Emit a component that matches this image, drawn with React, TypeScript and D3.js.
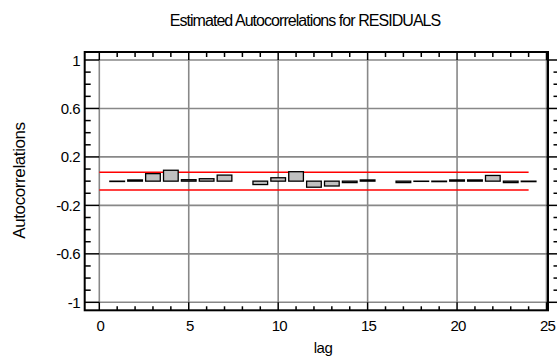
import React from "react";
import * as d3 from "d3";

const lags = [1, 2, 3, 4, 5, 6, 7, 8, 9, 10, 11, 12, 13, 14, 15, 16, 17, 18, 19, 20, 21, 22, 23, 24];
const acf: (number | null)[] = [
  -0.003, 0.01, 0.062, 0.09, 0.012, 0.02, 0.05, null, -0.028, 0.028, 0.078, -0.05,
  -0.04, -0.012, 0.01, null, -0.012, -0.002, -0.004, 0.01, 0.01, 0.047, -0.012, -0.004,
];
const upperLimit = [0.073];
const lowerLimit = [-0.073];
const xTicks = [0, 5, 10, 15, 20, 25];
const yTicks = [1, 0.6, 0.2, -0.2, -0.6, -1];
const yTickLabels = ["1", "0.6", "0.2", "-0.2", "-0.6", "-1"];
const title = "Estimated Autocorrelations for RESIDUALS";
const xLabel = "lag";
const yLabel = "Autocorrelations";

const W = 557;
const H = 363;
const FONT = "'Liberation Sans', Arial, sans-serif";

export default function App() {
  const x = d3.scaleLinear().domain([0, 25]).range([99.3, 546.5]);
  const y = d3.scaleLinear().domain([-1, 1]).range([302.3, 60]);
  const frame = { l: 84.7, r: 548, t: 52, b: 310.3 };
  const minorX = d3.range(0, 26);
  const minorY = d3.range(-10, 11).map((d) => d / 10);
  const bw = (x(1) - x(0)) * 0.82;
  const maxLag = d3.max(lags) as number;

  return (
    <svg
      width={W}
      height={H}
      style={{ position: "absolute", left: 0, top: 0, background: "#fff" }}
      fontFamily={FONT}
    >
      {/* gridlines */}
      {xTicks.map((t) => (
        <line key={"gx" + t} x1={x(t)} x2={x(t)} y1={y(1)} y2={y(-1)} stroke="#888" strokeWidth={1.6} />
      ))}
      {yTicks.map((t) => (
        <line key={"gy" + t} x1={x(0)} x2={x(25)} y1={y(t)} y2={y(t)} stroke="#888" strokeWidth={1.6} />
      ))}
      {/* confidence limits */}
      <line x1={x(0)} x2={x(maxLag)} y1={y(upperLimit[0])} y2={y(upperLimit[0])} stroke="#f00" strokeWidth={1.4} />
      <line x1={x(0)} x2={x(maxLag)} y1={y(lowerLimit[0])} y2={y(lowerLimit[0])} stroke="#f00" strokeWidth={1.4} />
      {/* bars */}
      {lags.map((l, i) => {
        const v = acf[i];
        if (v === null) return null;
        const y0 = y(Math.max(v, 0));
        const y1 = y(Math.min(v, 0));
        return (
          <rect
            key={"b" + l}
            x={x(l) - bw / 2}
            y={y0}
            width={bw}
            height={Math.max(y1 - y0, 0.01)}
            fill="#c0c0c0"
            stroke="#000"
            strokeWidth={1.3}
          />
        );
      })}
      {/* frame */}
      <rect x={frame.l} y={frame.t} width={frame.r - frame.l} height={frame.b - frame.t} fill="none" stroke="#000" strokeWidth={2} />
      {/* top & bottom ticks */}
      {minorX.map((t) => {
        const major = t % 5 === 0;
        return (
          <g key={"tx" + t}>
            <line x1={x(t)} x2={x(t)} y1={frame.t} y2={major ? y(1) : frame.t + 5} stroke="#000" strokeWidth={1.5} />
            <line x1={x(t)} x2={x(t)} y1={frame.b} y2={major ? y(-1) : frame.b - 4} stroke="#000" strokeWidth={1.5} />
          </g>
        );
      })}
      {/* left & right ticks */}
      {minorY.map((t, i) => {
        const major = Math.round(t * 10 + 10) % 4 === 0;
        return (
          <g key={"ty" + i}>
            <line x1={frame.l} x2={major ? x(0) : frame.l + 6} y1={y(t)} y2={y(t)} stroke="#000" strokeWidth={1.5} />
            {major ? (
              <line x1={x(25)} x2={W} y1={y(t)} y2={y(t)} stroke="#000" strokeWidth={1.5} />
            ) : (
              <line x1={W - 3.5} x2={W} y1={y(t)} y2={y(t)} stroke="#000" strokeWidth={1.5} />
            )}
          </g>
        );
      })}
      {/* tick labels */}
      {xTicks.map((t) => (
        <text key={"lx" + t} x={x(t) + 1} y={330.5} textAnchor="middle" fontSize={15} letterSpacing={-0.8} fill="#000">
          {t}
        </text>
      ))}
      {yTicks.map((t, i) => (
        <text key={"ly" + t} x={80} y={y(t) + 5.5} textAnchor="end" fontSize={15} letterSpacing={-0.5} fill="#000">
          {yTickLabels[i]}
        </text>
      ))}
      {/* titles */}
      <text x={305} y={26} textAnchor="middle" fontSize={16} letterSpacing={-0.95} fill="#000">
        {title}
      </text>
      <text x={323} y={353} textAnchor="middle" fontSize={15} letterSpacing={-0.5} fill="#000">
        {xLabel}
      </text>
      <text
        transform={`translate(25,180.5) rotate(-90)`}
        textAnchor="middle"
        fontSize={17}
        letterSpacing={-0.4}
        fill="#000"
      >
        {yLabel}
      </text>
    </svg>
  );
}
